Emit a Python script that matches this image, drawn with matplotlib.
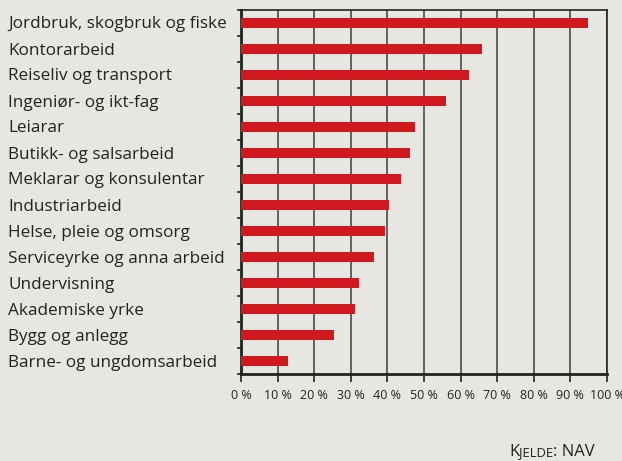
import matplotlib
matplotlib.use("Agg")
import matplotlib.pyplot as plt
import numpy as np

categories = [
    "Jordbruk, skogbruk og fiske",
    "Kontorarbeid",
    "Reiseliv og transport",
    "Ingeniør- og ikt-fag",
    "Leiarar",
    "Butikk- og salsarbeid",
    "Meklarar og konsulentar",
    "Industriarbeid",
    "Helse, pleie og omsorg",
    "Serviceyrke og anna arbeid",
    "Undervisning",
    "Akademiske yrke",
    "Bygg og anlegg",
    "Barne- og ungdomsarbeid",
]
values = [94.8, 65.9, 62.2, 56.0, 47.6, 46.1, 43.6, 40.4, 39.3, 36.3, 32.2, 31.1, 25.3, 12.8]
xticks = list(range(0, 101, 10))
xtick_labels = [f"{v} %" for v in xticks]

BG = "#e7e6e0"
RED = "#d0181f"
TXT = "#222222"

plt.rcParams['font.family'] = ['Open Sans', 'DejaVu Sans']

fig = plt.figure(figsize=(6.22, 4.61), dpi=100, facecolor=BG)
top_px, bot_px = 10, 374
ax = fig.add_axes([241/622, 1 - bot_px/461, (607-241)/622, (bot_px-top_px)/461])
ax.set_facecolor(BG)

n = len(categories)
ypos = np.arange(n)
ax.barh(ypos, values, height=0.42, color=RED, zorder=3)
ax.set_ylim(n - 0.5, -0.5)
ax.set_xlim(0, 100)

for x in xticks[1:]:
    ax.axvline(x, color="#4a4a4a", lw=1.2, zorder=1)

ax.set_xticks(xticks)
ax.set_xticklabels(xtick_labels, fontsize=9, color=TXT)
ax.tick_params(axis='x', direction='out', length=6, width=1.2, color="#222", pad=5)

ax.set_yticks(np.arange(-0.5, n, 1))
ax.set_yticklabels([])
ax.tick_params(axis='y', direction='out', length=3, width=1.2, color="#222")

for s in ax.spines.values():
    s.set_color("#222")
ax.spines['left'].set_linewidth(2)
ax.spines['bottom'].set_linewidth(2)
ax.spines['top'].set_linewidth(1.2)
ax.spines['right'].set_linewidth(1.2)

step = (bot_px - top_px) / n
for i, c in enumerate(categories):
    y = 1 - (top_px + (i + 0.5) * step + 1.5) / 461
    fig.text(8/622, y, c, ha='left', va='center', fontsize=12.3, color=TXT)

# source, small caps
fig.canvas.draw()
r = fig.canvas.get_renderer()
x0 = 509
ybase = 1 - 456/461
parts = [("K", 12), ("JELDE", 9.4), (": NAV", 12)]
for s, fs in parts:
    t = fig.text(x0/622, ybase, s, fontsize=fs, color=TXT, ha='left', va='baseline')
    bb = t.get_window_extent(renderer=r)
    x0 += bb.width

fig.savefig("out.png", dpi=100, facecolor=BG)
